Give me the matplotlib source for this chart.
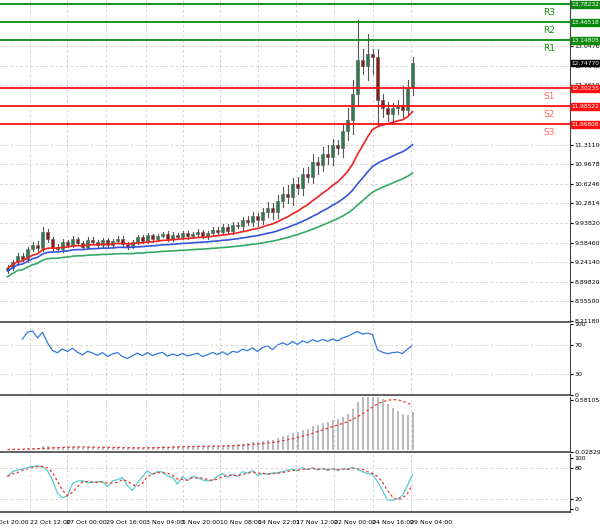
import numpy as np
import pandas as pd
import matplotlib
matplotlib.use("Agg")
import matplotlib.pyplot as plt
from matplotlib.patches import Rectangle

closes = [9.14,9.25,9.35,9.30,9.48,9.55,9.50,9.78,9.65,9.52,
          9.48,9.60,9.55,9.66,9.58,9.52,9.64,9.60,9.55,9.63,
          9.54,9.62,9.66,9.57,9.52,9.60,9.68,9.62,9.72,9.65,
          9.71,9.75,9.66,9.73,9.69,9.76,9.70,9.74,9.78,9.71,
          9.76,9.82,9.78,9.86,9.80,9.90,9.88,9.98,9.95,10.05,
          9.98,10.12,10.20,10.12,10.32,10.45,10.40,10.62,10.55,10.80,
          10.75,11.00,10.95,11.15,11.10,11.30,11.25,11.55,11.75,12.20,
          12.80,12.70,12.90,12.85,12.10,11.95,11.85,11.95,12.00,11.92,12.30,12.75]
first_open = 9.10
wick_up = [0.05,0.04,0.06,0.05,0.04,0.05,0.06,0.08,0.05,0.04,
           0.04,0.05,0.04,0.05,0.03,0.04,0.05,0.04,0.03,0.04,
           0.04,0.03,0.04,0.05,0.03,0.04,0.05,0.04,0.04,0.03,
           0.04,0.03,0.04,0.05,0.03,0.04,0.03,0.04,0.05,0.04,
           0.04,0.05,0.04,0.06,0.05,0.06,0.05,0.06,0.07,0.08,
           0.06,0.08,0.10,0.08,0.10,0.12,0.15,0.10,0.12,0.10,
           0.12,0.15,0.10,0.12,0.15,0.12,0.10,0.15,0.20,0.25,
           0.70,0.20,0.35,0.10,0.15,0.10,0.12,0.10,0.10,0.35,0.15,0.10]
wick_dn = [0.05,0.04,0.05,0.04,0.05,0.04,0.05,0.06,0.05,0.06,
           0.04,0.05,0.04,0.03,0.04,0.05,0.03,0.04,0.04,0.03,
           0.05,0.04,0.03,0.04,0.05,0.03,0.04,0.04,0.03,0.05,
           0.04,0.03,0.05,0.04,0.03,0.04,0.05,0.03,0.04,0.04,
           0.05,0.04,0.05,0.04,0.06,0.05,0.04,0.06,0.05,0.06,
           0.10,0.07,0.08,0.12,0.09,0.10,0.12,0.15,0.10,0.12,
           0.10,0.12,0.15,0.10,0.12,0.15,0.10,0.15,0.15,0.25,
           0.20,0.15,0.25,0.30,0.45,0.15,0.12,0.15,0.10,0.12,0.10,0.12]
levels = [13.78232, 13.46518, 13.14805, 12.30235, 11.98522, 11.66808]
level_names = ["R3", "R2", "R1", "S1", "S2", "S3"]
price_ticks = [13.04760,12.70420,12.36100,11.31100,10.96780,10.62460,10.28140,9.93820,9.58460,9.24140,8.89820,8.55500,8.21180]
last_price = 12.74770
date_labels = ["20 Oct 20:00","22 Oct 12:00","27 Oct 00:00","29 Oct 16:00","3 Nov 04:00","5 Nov 20:00",
               "10 Nov 08:00","14 Nov 22:01","17 Nov 12:00","22 Nov 00:00","24 Nov 16:00","29 Nov 04:00"]
date_pos = [-4.0,4.4,11.8,19.6,27.6,35.0,42.4,50.0,57.6,65.2,73.0,80.6]

c = pd.Series(closes)
o = pd.Series([first_open] + closes[:-1])
h = np.maximum(o, c) + pd.Series(wick_up)
l = np.minimum(o, c) - pd.Series(wick_dn)
n = len(c)
x = np.arange(n)

W, H = 600, 528
fig = plt.figure(figsize=(6, 5.28), dpi=100)
def ax_at(top, bot):
    return fig.add_axes([0, (H-bot)/H, 570/W, (bot-top)/H])
ax = ax_at(0, 322); ar = ax_at(324, 395); am = ax_at(397, 452); ast = ax_at(454, 512)
XL = (-1.5, 112.5)
grid_kw = dict(color="#cccccc", ls=(0, (3, 3)), lw=0.6)
for a in (ax, ar, am, ast):
    a.set_xlim(*XL)
    a.set_facecolor("white")
    a.yaxis.tick_right()
    a.tick_params(axis="y", labelsize=4.5, length=2, pad=1)
    a.set_xticks([])
    for p in date_pos:
        a.axvline(p, **grid_kw, zorder=0)
    for s in ("left", "top"):
        a.spines[s].set_visible(False)
    a.spines["right"].set_color("#444444")
    a.spines["bottom"].set_color("#444444")
    a.spines["bottom"].set_linewidth(1.2)

ax.set_ylim(8.194, 13.856)
ax.set_yticks(price_ticks)
ax.set_yticklabels([f"{v:.5f}" for v in price_ticks])
for v in price_ticks:
    ax.axhline(v, **grid_kw, zorder=0)
for i in range(n):
    ax.plot([x[i], x[i]], [l[i], h[i]], color="#555555", lw=0.8, zorder=2)
    up = c[i] >= o[i]
    ax.add_patch(Rectangle((x[i]-0.3, min(o[i], c[i])), 0.6, max(abs(c[i]-o[i]), 0.01),
                           facecolor="#2e7d4f" if up else "#8b1a1a", edgecolor="#555555", lw=0.4, zorder=3))
ema20 = c.ewm(span=20).mean(); ema50 = c.ewm(span=40).mean() - 0.05; ema100 = c.ewm(span=70).mean() - 0.15
ax.plot(x, ema20, color="#ee2222", lw=1.2, zorder=4)
ax.plot(x, ema50, color="#3355dd", lw=1.2, zorder=4)
ax.plot(x, ema100, color="#33aa66", lw=1.2, zorder=4)
for v, nm in zip(levels, level_names):
    col = "#0a8a0a" if nm[0] == "R" else "#ff1111"
    ax.axhline(v, color=col, lw=1.3, zorder=5)
    ax.text(XL[1]-3, v-0.07, nm, color=col if nm[0]=="R" else "#ff6666", fontsize=6.5, ha="right", va="top")
    ax.text(XL[1]+0.3, v, f"{v:.5f}", color="white", fontsize=4.2, va="center", ha="left",
            bbox=dict(boxstyle="square,pad=0.15", fc=col, ec=col), zorder=6, clip_on=False)
ax.text(XL[1]+0.3, last_price, f"{last_price:.5f}", color="white", fontsize=4.2, va="center", ha="left",
        bbox=dict(boxstyle="square,pad=0.15", fc="black", ec="black"), zorder=6, clip_on=False)

d = c.diff()
g = d.clip(lower=0).ewm(alpha=1/14).mean(); ls_ = (-d.clip(upper=0)).ewm(alpha=1/14).mean()
rsi = 100 - 100/(1 + g/ls_)
ar.plot(x[3:], rsi[3:], color="#3377dd", lw=0.9)
ar.set_ylim(0, 100); ar.set_yticks([100, 70, 30, 0])
for v in (70, 30):
    ar.axhline(v, **grid_kw)

macd = c.ewm(span=12).mean() - c.ewm(span=26).mean()
sig = macd.rolling(9, min_periods=1).mean()
am.bar(x, macd, width=0.4, color="#bbbbbb")
am.plot(x, sig, color="#ee3333", ls=(0, (2, 2)), lw=0.9)
am.set_ylim(-0.028297, 0.581054 * 1.05)
am.set_yticks([0.581054, -0.028297]); am.set_yticklabels(["0.581054", "-0.028297"])

ll = l.rolling(5, min_periods=1).min(); hh = h.rolling(5, min_periods=1).max()
k = (100*(c-ll)/(hh-ll)).rolling(3, min_periods=1).mean()
dd = k.rolling(3, min_periods=1).mean()
ast.plot(x, k, color="#55cccc", lw=0.9)
ast.plot(x, dd, color="#ee3333", ls=(0, (2, 2)), lw=0.9)
ast.set_ylim(-5, 108); ast.set_yticks([100, 80, 20, 0])
for v in (80, 20):
    ast.axhline(v, **grid_kw)

for p, t in zip(date_pos, date_labels):
    xp = (p - XL[0]) / (XL[1]-XL[0]) * 570 / W
    fig.text(xp, (H-522)/H, t, fontsize=4.5, ha="left", va="center")

fig.savefig("out.png", dpi=100, facecolor="white")
